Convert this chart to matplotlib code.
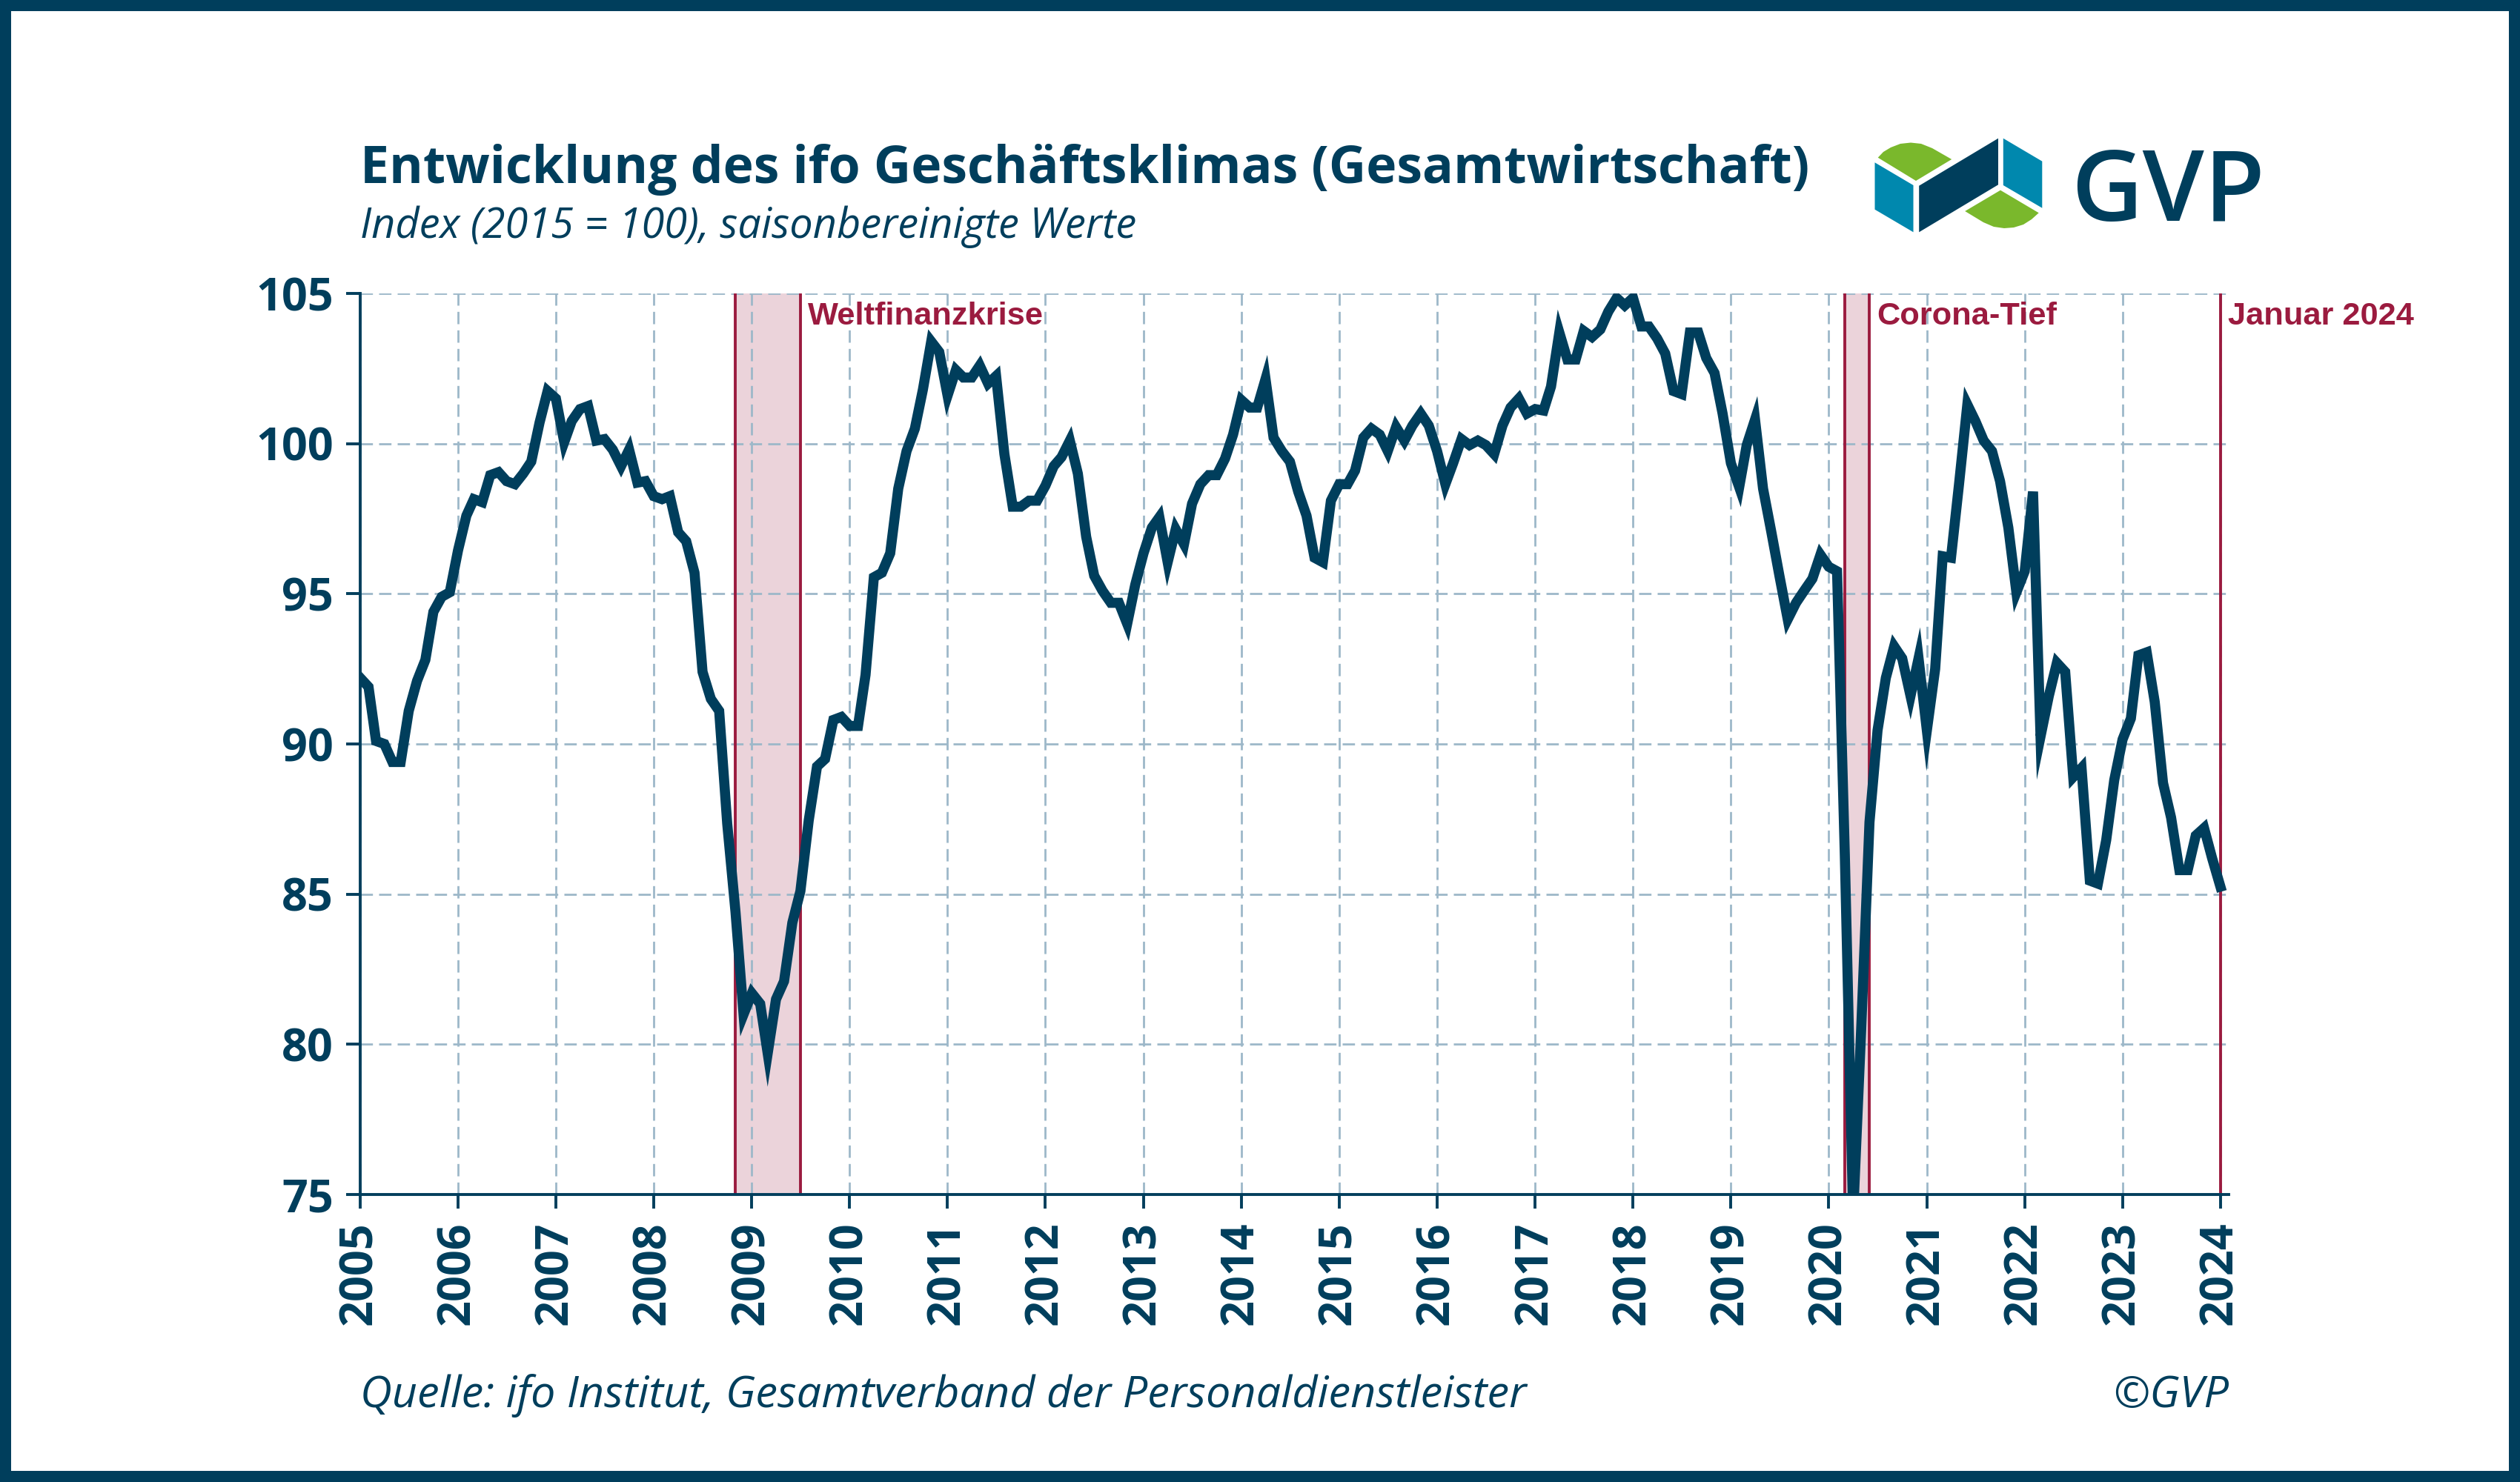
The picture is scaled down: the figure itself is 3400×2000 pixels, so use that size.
import matplotlib
matplotlib.use("Agg")
import matplotlib.pyplot as plt
import matplotlib.dates as mdates
from matplotlib.patches import Rectangle, Polygon
import pandas as pd

# ifo Geschaeftsklima, Index 2015 = 100, monatlich Jan 2005 - Jan 2024
werte_2005_2009 = [
    92.2, 91.9, 90.1, 90.0, 89.4, 89.4, 91.1, 92.1, 92.8, 94.4, 94.9, 95.05,
    96.45, 97.6, 98.15, 98.05, 98.95, 99.05, 98.75, 98.65, 99.0, 99.4, 100.7, 101.75,
    101.5, 100.05, 100.75, 101.15, 101.25, 100.1, 100.15, 99.8, 99.25, 99.8, 98.7, 98.75,
    98.25, 98.15, 98.25, 97.05, 96.75, 95.7, 92.4, 91.5, 91.1, 87.35, 84.4, 81.0,
    81.7, 81.35, 79.7, 81.5, 82.1, 84.05, 85.1, 87.45, 89.25, 89.5, 90.8, 90.9,
]
werte_2010_2014 = [
    90.6, 90.6, 92.3, 95.55, 95.7, 96.35, 98.5, 99.75, 100.5, 101.8, 103.4, 103.05,
    101.6, 102.45, 102.2, 102.2, 102.6, 102.0, 102.25, 99.65, 97.9, 97.9, 98.1, 98.1,
    98.6, 99.25, 99.55, 100.1, 99.0, 96.9, 95.6, 95.1, 94.7, 94.7, 94.0, 95.3,
    96.35, 97.2, 97.55, 96.05, 97.15, 96.65, 98.0, 98.65, 98.95, 98.95, 99.5, 100.3,
    101.45, 101.2, 101.2, 102.15, 100.2, 99.75, 99.4, 98.4, 97.6, 96.2, 96.05, 98.1,
]
werte_2015_2019 = [
    98.65, 98.65, 99.1, 100.2, 100.5, 100.3, 99.75, 100.55, 100.1, 100.6, 101.0, 100.6,
    99.75, 98.65, 99.35, 100.15, 99.95, 100.1, 99.95, 99.65, 100.6, 101.2, 101.5, 101.0,
    101.15, 101.1, 101.9, 103.7, 102.8, 102.8, 103.75, 103.55, 103.8, 104.4, 104.85, 104.6,
    104.85, 103.9, 103.9, 103.5, 103.0, 101.75, 101.65, 103.7, 103.7, 102.85, 102.35, 101.0,
    99.35, 98.55, 99.95, 100.8, 98.5, 97.05, 95.6, 94.15, 94.7, 95.1, 95.5, 96.3,
]
werte_2020_2024 = [
    95.9, 95.75, 86.3, 74.3, 80.5, 87.4, 90.45, 92.2, 93.25, 92.85, 91.6, 92.85,
    90.45, 92.5, 96.25, 96.2, 98.65, 101.3, 100.75, 100.1, 99.75, 98.75, 97.2, 95.05,
    95.75, 98.4, 90.25, 91.6, 92.7, 92.4, 88.9, 89.2, 85.45, 85.35, 86.8, 88.8,
    90.15, 90.85, 92.95, 93.05, 91.4, 88.7, 87.55, 85.8, 85.8, 86.95, 87.2, 86.2,
    85.25,
]
werte = werte_2005_2009 + werte_2010_2014 + werte_2015_2019 + werte_2020_2024
monate = pd.date_range("2005-01-01", periods=len(werte), freq="MS")

krisen_start = ["2008-11-01", "2020-03-01"]
krisen_ende = ["2009-07-01", "2020-06-01"]
krisen_namen = ["Weltfinanzkrise", "Corona-Tief"]
marke_datum = "2024-01-01"
marke_name = "Januar 2024"

jahre = list(range(2005, 2025))
y_ticks = [75, 80, 85, 90, 95, 100, 105]

navy = "#003e5c"
rot = "#9b1b3f"
rosa = "#ebd3da"
gitter = "#9db8c9"
teal = "#0088ae"
gruen = "#7ab82c"

plt.rcParams["font.family"] = ["Open Sans", "DejaVu Sans"]

W, H = 3400, 2000
fig = plt.figure(figsize=(17, 10), dpi=200)
fig.patch.set_facecolor(navy)
rand = 15
fig.add_artist(Rectangle((rand / W, rand / H), 1 - 2 * rand / W, 1 - 2 * rand / H,
                         transform=fig.transFigure, facecolor="white",
                         edgecolor="none", zorder=-10))

ax = fig.add_axes([486 / W, 1 - 1612 / H, (3007 - 486) / W, (1612 - 396) / H])
ax.set_facecolor("none")

for s, e in zip(krisen_start, krisen_ende):
    ax.axvspan(pd.Timestamp(s), pd.Timestamp(e), color=rosa, lw=0, zorder=1)
    ax.axvline(pd.Timestamp(s), color=rot, lw=1.4, zorder=2)
    ax.axvline(pd.Timestamp(e), color=rot, lw=1.4, zorder=2)
ax.axvline(pd.Timestamp(marke_datum), color=rot, lw=1.4, zorder=2)

ax.plot(monate, werte, color=navy, lw=4.9, zorder=4, solid_joinstyle="miter")

ax.set_xlim(pd.Timestamp("2005-01-01"), pd.Timestamp("2024-02-01"))
ax.set_ylim(75, 105)
ax.set_yticks(y_ticks)
ax.set_xticks([pd.Timestamp(f"{j}-01-01") for j in jahre])
ax.xaxis.set_major_formatter(mdates.DateFormatter("%Y"))

ax.grid(True, color=gitter, lw=1.0, dashes=(6, 3), zorder=0)
for sp in ["top", "right"]:
    ax.spines[sp].set_visible(False)
for sp in ["left", "bottom"]:
    ax.spines[sp].set_color(navy)
    ax.spines[sp].set_linewidth(1.4)
    ax.spines[sp].set_zorder(5)
ax.tick_params(axis="both", colors=navy, length=7, width=1.4, pad=6,
               labelsize=22)
for lab in ax.get_xticklabels():
    lab.set_rotation(90)
    lab.set_fontweight("bold")
for lab in ax.get_yticklabels():
    lab.set_fontweight("bold")

anno_font = dict(family=["Liberation Sans", "DejaVu Sans"], weight="bold",
                 size=15.6, color=rot)
for e, name in zip(krisen_ende, krisen_namen):
    ax.annotate(name, xy=(pd.Timestamp(e), 1), xycoords=("data", "axes fraction"),
                xytext=(3.5, -4), textcoords="offset points", ha="left", va="top",
                **anno_font)
ax.annotate(marke_name, xy=(pd.Timestamp(marke_datum), 1),
            xycoords=("data", "axes fraction"), xytext=(3.5, -4),
            textcoords="offset points", ha="left", va="top", **anno_font)

# Titel, Untertitel, Quelle
fig.text(486 / W, 1 - 247 / H, "Entwicklung des ifo Geschäftsklimas (Gesamtwirtschaft)",
         fontsize=25.05, fontweight="bold", color=navy, va="baseline", ha="left")
fig.text(486 / W, 1 - 321 / H, "Index (2015 = 100), saisonbereinigte Werte",
         fontsize=20.1, style="italic", color=navy, va="baseline", ha="left")
fig.text(486 / W, 1 - 1899 / H,
         "Quelle: ifo Institut, Gesamtverband der Personaldienstleister",
         fontsize=21.4, style="italic", color=navy, va="baseline", ha="left")
fig.text(3007 / W, 1 - 1899 / H, "©GVP", fontsize=21.4, style="italic",
         color=navy, va="baseline", ha="right")

# Logo
lx0, lx1, ly0, ly1 = 2520, 2760, 180, 320
lax = fig.add_axes([lx0 / W, 1 - ly1 / H, (lx1 - lx0) / W, (ly1 - ly0) / H])
lax.set_xlim(lx0, lx1)
lax.set_ylim(ly1, ly0)
lax.axis("off")
lax.add_patch(Polygon([(2529.5, 219.3), (2581.5, 250), (2581.5, 313.3), (2529.5, 282.7)],
                      closed=True, fc=teal, ec="none"))
lax.add_patch(Polygon([(2589.2, 250.7), (2696, 186.7), (2696, 249.3), (2589.2, 313.3)],
                      closed=True, fc=navy, ec="none"))
lax.add_patch(Polygon([(2702.8, 186.7), (2755.3, 217.7), (2755.3, 280.7), (2702.8, 250)],
                      closed=True, fc=teal, ec="none"))
lax.add_patch(Polygon([(2533.7, 212.7), (2585, 244), (2633.2, 215), (2607, 200),
                       (2592, 194), (2578, 192.5), (2564, 194), (2551, 199), (2541, 205)],
                      closed=True, fc=gruen, ec="none"))
lax.add_patch(Polygon([(2651.2, 285), (2699, 256.7), (2750.7, 287.3), (2741, 296),
                       (2730, 303), (2717, 307), (2704, 308), (2690, 306), (2676, 300)],
                      closed=True, fc=gruen, ec="none"))
fig.text(2794 / W, 1 - 298 / H, "GVP", fontsize=48, fontweight="semibold",
         color=navy, va="baseline", ha="left")

fig.savefig("out.png", dpi=200, facecolor=fig.get_facecolor())
